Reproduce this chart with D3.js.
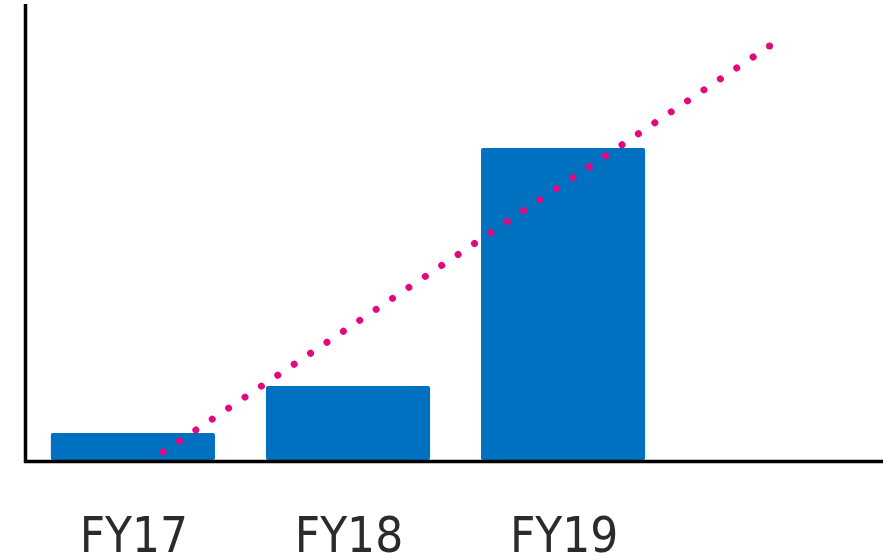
<!DOCTYPE html>
<html>
<head>
<meta charset="utf-8">
<script src="https://cdn.jsdelivr.net/npm/d3@7"></script>
<style>
  body { margin: 0; background: #fff; overflow: hidden; }
  .cat-label { font-family: 'DejaVu Sans Condensed', 'DejaVu Sans', sans-serif; font-size: 49px; fill: #2b2b2b; }
</style>
</head>
<body>
<script>
// data
var categories = ['FY17', 'FY18', 'FY19']
var values = [27, 74, 312]

// linear trend (category index -> value), forward extended
var trendIndex = [0.14, 2.96]
var trendValue = [8, 414]

var w = 886
var h = 554

var svg = d3.select('body')
            .append('svg')
            .attr('width', w)
            .attr('height', h)

var x = d3.scaleBand()
        .domain(categories)
        .range([25.5, 25.5 + 3 * 215])
        .paddingInner(0.237)
        .paddingOuter(0.118)

var y = d3.scaleLinear()
        .domain([0, 456])
        .range([460, 4])

// index scale so the trend sits on the same category positions
var xi = d3.scaleLinear()
        .domain([0, 1])
        .range([x(categories[0]) + x.bandwidth() / 2, x(categories[1]) + x.bandwidth() / 2])

// BARS
svg.selectAll('.bar')
  .data(values)
  .enter()
    .append('rect')
    .classed('bar', true)
    .attr('x', function (d, i) { return x(categories[i]) })
    .attr('y', function (d) { return y(d) })
    .attr('width', x.bandwidth())
    .attr('height', function (d) { return y(0) - y(d) })
    .attr('rx', 2)
    .attr('fill', '#0070c0')

// TREND (dotted)
var line = d3.line()
  .x(function (d) { return xi(d) })
  .y(function (d, i) { return y(trendValue[i]) })

var trend = svg.append('path')
  .datum(trendIndex)
  .attr('d', line)
  .attr('fill', 'none')
  .attr('stroke', '#e2097e')
  .attr('stroke-width', 7)
  .attr('stroke-linecap', 'round')

// fit the dot spacing so a dot lands on both ends
var len = trend.node().getTotalLength()
var gap = len / Math.round(len / 19.8)
trend.attr('stroke-dasharray', '0.01 ' + (gap - 0.01))

// AXES
svg.append('line')
  .attr('x1', 25.5).attr('x2', 25.5)
  .attr('y1', 4).attr('y2', 463)
  .attr('stroke', '#000')
  .attr('stroke-width', 3.5)

svg.append('line')
  .attr('x1', 24).attr('x2', 883)
  .attr('y1', 461.5).attr('y2', 461.5)
  .attr('stroke', '#000')
  .attr('stroke-width', 3.5)

// CATEGORY LABELS
svg.selectAll('.cat-label')
  .data(categories)
  .enter()
    .append('text')
    .classed('cat-label', true)
    .attr('x', function (d) { return x(d) + x.bandwidth() / 2 + 1 })
    .attr('y', 552)
    .attr('text-anchor', 'middle')
    .text(function (d) { return d })
</script>
</body>
</html>
